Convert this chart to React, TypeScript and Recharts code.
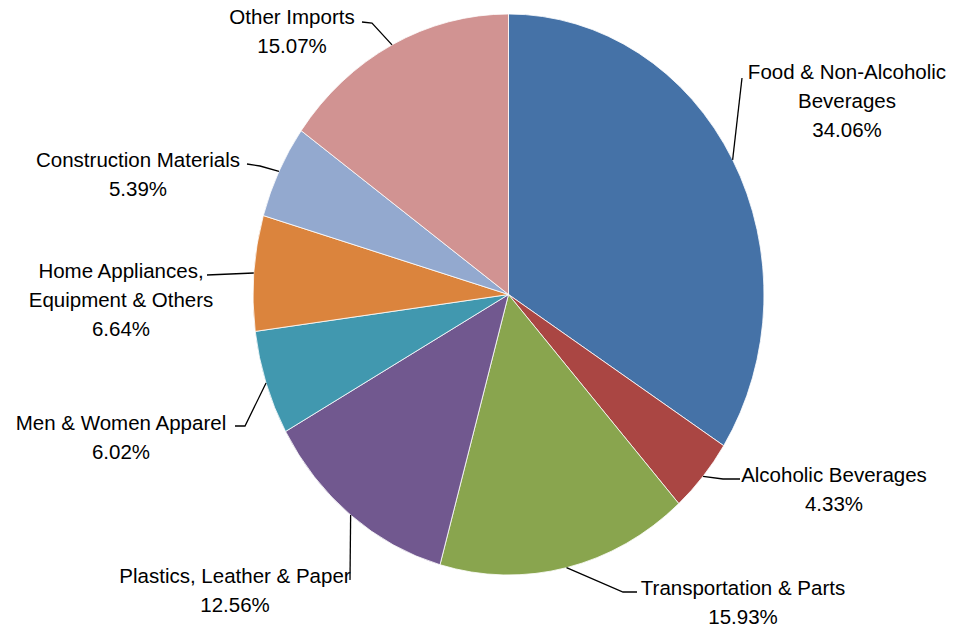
import React from "react";
import { PieChart, Pie, Cell } from "recharts";

const categories = [
  "Food & Non-Alcoholic Beverages",
  "Alcoholic Beverages",
  "Transportation & Parts",
  "Plastics, Leather & Paper",
  "Men & Women Apparel",
  "Home Appliances, Equipment & Others",
  "Construction Materials",
  "Other Imports",
];

const shares = [34.06, 4.33, 15.93, 12.56, 6.02, 6.64, 5.39, 15.07];

const labelText = [
  ["Food & Non-Alcoholic", "Beverages"],
  ["Alcoholic Beverages"],
  ["Transportation & Parts"],
  ["Plastics, Leather & Paper"],
  ["Men & Women Apparel"],
  ["Home Appliances,", "Equipment & Others"],
  ["Construction Materials"],
  ["Other Imports"],
];

const colors = ["#4572A7", "#AA4643", "#89A54E", "#71588F", "#4198AF", "#DB843D", "#93A9CF", "#D19392"];

// label layout, relative to the pie centre: text centre x, first baseline y, leader elbow points
const labelLayout = [
  { tx: 338.5, ty: -215.5, pts: [[233.5, -216.5]] },
  { tx: 325.5, ty: 187.5, pts: [[214.5, 184.5], [231.5, 184.5]] },
  { tx: 234.5, ty: 300.5, pts: [[114.5, 297.5], [128.5, 297.5]] },
  { tx: -273.5, ty: 288.5, pts: [[-158.5, 285.5]] },
  { tx: -387.5, ty: 135.5, pts: [[-263.5, 131.5], [-273.5, 131.5]] },
  { tx: -387.5, ty: -16.5, pts: [[-301.5, -19.5]] },
  { tx: -370.5, ty: -127.5, pts: [[-248.5, -128.5], [-261.5, -130.5]] },
  { tx: -216.5, ty: -270.5, pts: [[-136.5, -271.5], [-146.5, -272.5]] },
];

const data = categories.map((name, i) => ({ name, value: shares[i] }));

const STRETCH = 280.5 / 255.5;
const FONT = "'Liberation Sans', Arial, sans-serif";
const LINE_H = 29;

function ept(cx: number, cy: number, r: number, deg: number) {
  const a = (deg * Math.PI) / 180;
  return [cx + r * Math.cos(a), cy - r * STRETCH * Math.sin(a)];
}

const EllipseSector = (props: any) => {
  const { cx, cy, outerRadius, startAngle, endAngle, fill } = props;
  const [x1, y1] = ept(cx, cy, outerRadius, startAngle);
  const [x2, y2] = ept(cx, cy, outerRadius, endAngle);
  const large = Math.abs(endAngle - startAngle) > 180 ? 1 : 0;
  const sweep = startAngle > endAngle ? 1 : 0;
  const d = `M ${cx} ${cy} L ${x1} ${y1} A ${outerRadius} ${outerRadius * STRETCH} 0 ${large} ${sweep} ${x2} ${y2} Z`;
  return <path d={d} fill={fill} stroke="#ffffff" strokeWidth={0.8} strokeLinejoin="round" />;
};

const renderLabel = (props: any) => {
  const { cx, cy, midAngle, outerRadius, index } = props;
  const lay = labelLayout[index];
  const [ex, ey] = ept(cx, cy, outerRadius, midAngle);
  const pts = [[ex, ey], ...lay.pts.map(([dx, dy]) => [cx + dx, cy + dy])];
  const lines = [...labelText[index], `${shares[index].toFixed(2)}%`];
  return (
    <g key={`lbl-${index}`}>
      <polyline points={pts.map((p) => p.join(",")).join(" ")} fill="none" stroke="#000" strokeWidth={1.3} />
      <text x={cx + lay.tx} y={cy + lay.ty} textAnchor="middle" fontFamily={FONT} fontSize={20.5} fill="#000">
        {lines.map((l, i) => (
          <tspan key={i} x={cx + lay.tx} dy={i === 0 ? 0 : LINE_H}>
            {l}
          </tspan>
        ))}
      </text>
    </g>
  );
};

export default function App() {
  return (
    <div style={{ position: "absolute", left: 0, top: 0, width: 956, height: 634, background: "#fff" }}>
      <PieChart width={956} height={634} margin={{ top: 0, right: 0, bottom: 0, left: 0 }}>
        <Pie
          data={data}
          dataKey="value"
          nameKey="name"
          cx={508.5}
          cy={294.5}
          innerRadius={0}
          outerRadius={255.5}
          startAngle={90}
          endAngle={-270}
          shape={EllipseSector}
          label={renderLabel}
          labelLine={false}
          isAnimationActive={false}
        >
          {data.map((d, i) => (
            <Cell key={d.name} fill={colors[i]} />
          ))}
        </Pie>
      </PieChart>
    </div>
  );
}
